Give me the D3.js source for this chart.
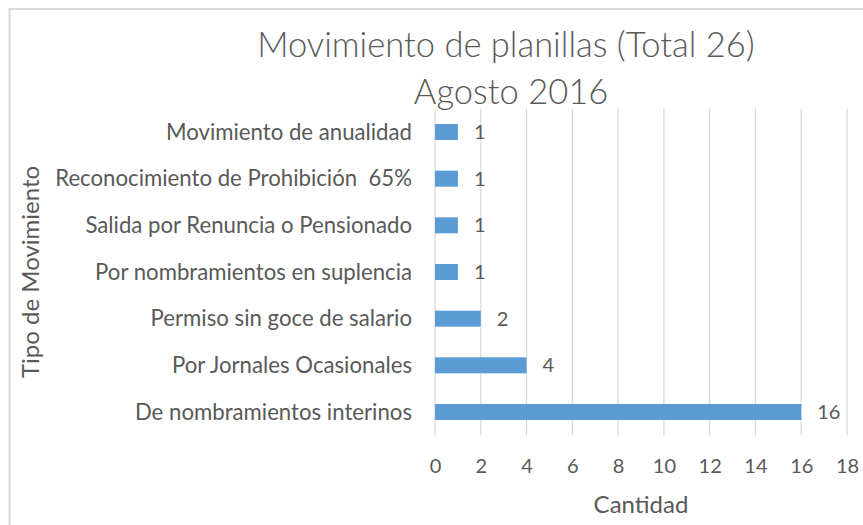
<!DOCTYPE html>
<html>
<head>
<meta charset="utf-8">
<script src="https://cdn.jsdelivr.net/npm/d3@7"></script>
<style>
  html, body { margin: 0; padding: 0; background: #fff; }
  svg text { font-family: Lato, "Open Sans", sans-serif; fill: #595959; white-space: pre; }
</style>
</head>
<body>
<svg id="chart" width="863" height="525"></svg>
<script>
const categories = [
  "Movimiento de anualidad",
  "Reconocimiento de Prohibición  65%",
  "Salida por Renuncia o Pensionado",
  "Por nombramientos en suplencia",
  "Permiso sin goce de salario",
  "Por Jornales Ocasionales",
  "De nombramientos interinos"
];
const values = [1, 1, 1, 1, 2, 4, 16];
const xTicks = [0, 2, 4, 6, 8, 10, 12, 14, 16, 18];
const titleLines = ["Movimiento de planillas (Total 26)", "Agosto 2016"];
const xAxisTitle = "Cantidad";
const yAxisTitle = "Tipo de Movimiento";

const svg = d3.select("#chart");

// chart border
svg.append("rect")
  .attr("x", 9.5).attr("y", 9)
  .attr("width", 900).attr("height", 600)
  .attr("fill", "none").attr("stroke", "#d9d9d9").attr("stroke-width", 2);

const plot = { left: 435, right: 847, top: 108.7, bottom: 435.3 };

const x = d3.scaleLinear().domain([0, 18]).range([plot.left, plot.right]);
const y = d3.scaleBand().domain(categories).range([plot.top, plot.bottom])
  .paddingInner(0.657).paddingOuter(0.3285);

// gridlines
svg.append("g").selectAll("line").data(xTicks).join("line")
  .attr("x1", d => x(d)).attr("x2", d => x(d))
  .attr("y1", plot.top).attr("y2", plot.bottom)
  .attr("stroke", "#d9d9d9").attr("stroke-width", 1.2);

// x axis tick labels
const xAxis = d3.axisBottom(x).tickValues(xTicks).tickSize(0).tickPadding(0);
const gx = svg.append("g").attr("transform", `translate(0,${plot.bottom})`).call(xAxis);
gx.select(".domain").remove();
gx.selectAll("text")
  .attr("y", 31).attr("dy", "0.35em")
  .style("font-size", "20px").style("font-family", "Lato").attr("fill", "#595959");

// y axis labels
const yAxis = d3.axisLeft(y).tickSize(0).tickPadding(0);
const gy = svg.append("g").attr("transform", `translate(${plot.left - 23},0)`).call(yAxis);
gy.select(".domain").remove();
gy.selectAll("text")
  .attr("dy", "0.35em")
  .style("font-size", "22.2px").style("font-family", "Lato").attr("fill", "#595959");

// bars
svg.append("g").selectAll("rect").data(categories).join("rect")
  .attr("x", x(0))
  .attr("y", d => y(d))
  .attr("width", (d, i) => x(values[i]) - x(0))
  .attr("height", y.bandwidth())
  .attr("fill", "#5b9bd5");

// value labels
svg.append("g").selectAll("text").data(categories).join("text")
  .attr("x", (d, i) => x(values[i]) + 16)
  .attr("y", d => y(d) + y.bandwidth() / 2)
  .attr("dy", "0.35em")
  .style("font-size", "20px")
  .text((d, i) => values[i]);

// title
svg.append("text")
  .attr("x", 506).attr("y", 57)
  .attr("text-anchor", "middle")
  .style("font-size", "34.5px").style("font-weight", "300")
  .text(titleLines[0]);
svg.append("text")
  .attr("x", 511).attr("y", 103.5)
  .attr("text-anchor", "middle")
  .style("font-size", "34.5px").style("font-weight", "300")
  .text(titleLines[1]);

// axis titles
svg.append("text")
  .attr("x", (plot.left + plot.right) / 2).attr("y", 513)
  .attr("text-anchor", "middle")
  .style("font-size", "24px")
  .text(xAxisTitle);

svg.append("text")
  .attr("transform", `translate(39,${(plot.top + plot.bottom) / 2}) rotate(-90)`)
  .attr("text-anchor", "middle")
  .style("font-size", "24px")
  .text(yAxisTitle);
</script>
</body>
</html>
